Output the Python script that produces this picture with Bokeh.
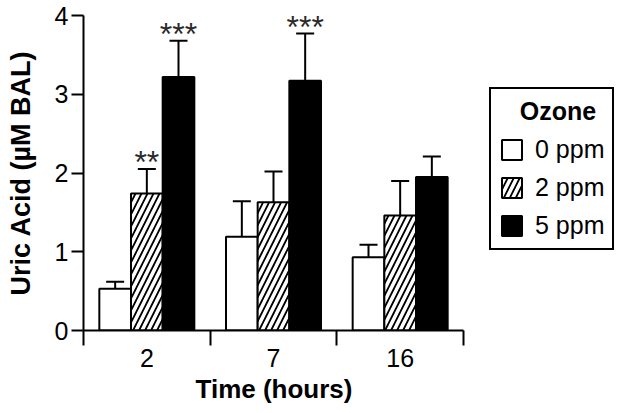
from bokeh.plotting import figure
from bokeh.models import (ColumnDataSource, Range1d, FixedTicker, Whisker, TeeHead,
                          Legend, LegendItem, Title)
from bokeh.transform import dodge
from bokeh.core.properties import value
from bokeh.embed import file_html
from bokeh.resources import INLINE

# ---- data ----
times = ["2", "7", "16"]
ozone = ["0 ppm", "2 ppm", "5 ppm"]
mean_0 = [0.53, 1.19, 0.93]
sem_0 = [0.09, 0.45, 0.16]
mean_2 = [1.74, 1.63, 1.46]
sem_2 = [0.31, 0.39, 0.44]
mean_5 = [3.22, 3.17, 1.95]
sem_5 = [0.46, 0.60, 0.26]
stars_2 = ["**", "", ""]
stars_5 = ["***", "***", ""]
legend_title = "Ozone"
x_title = "Time (hours)"
y_title = "Uric Acid (µM BAL)"

FONT = "Liberation Sans"

# layout (pixels)
DATA_W = 380      # width of the axis part of the frame
FRAME_W = 539     # frame extends right to hold the legend
FRAME_H = 315

centers = [i + 0.5 for i in range(len(times))]
src = ColumnDataSource(dict(
    x=centers,
    m0=mean_0, u0=[m + s for m, s in zip(mean_0, sem_0)],
    m2=mean_2, u2=[m + s for m, s in zip(mean_2, sem_2)],
    m5=mean_5, u5=[m + s for m, s in zip(mean_5, sem_5)],
    s2=stars_2, s5=stars_5,
))

n = len(times)
p = figure(frame_width=FRAME_W, frame_height=FRAME_H, output_backend="svg",
           toolbar_location=None,
           x_range=Range1d(0, n * FRAME_W / DATA_W), y_range=Range1d(0, 4),
           min_border_left=83, min_border_right=2, min_border_top=15,
           min_border_bottom=83)
p.outline_line_color = None
p.xgrid.visible = False
p.ygrid.visible = False
p.background_fill_color = "white"
p.border_fill_color = "white"

W = 0.25
r0 = p.vbar(x=dodge("x", -W), top="m0", width=W, bottom=0, source=src,
            fill_color="white", line_color="black", line_width=2)
r2 = p.vbar(x=dodge("x", 0), top="m2", width=W, bottom=0, source=src,
            fill_color="white", line_color="black", line_width=2,
            hatch_pattern="right_diagonal_line", hatch_color="black",
            hatch_scale=12, hatch_weight=1.8)
r5 = p.vbar(x=dodge("x", W), top="m5", width=W, bottom=0, source=src,
            fill_color="black", line_color="black", line_width=2)

for off, lo, hi in [(-W, "m0", "u0"), (0, "m2", "u2"), (W, "m5", "u5")]:
    wk = Whisker(base=dodge("x", off), lower=lo, upper=hi, source=src,
                 dimension="height", line_color="black", line_width=2,
                 upper_head=TeeHead(size=18, line_width=2, line_color="black"),
                 lower_head=None, level="underlay")
    p.add_layout(wk)

for off, hi, col in [(0, "u2", "s2"), (W, "u5", "s5")]:
    p.text(x=dodge("x", off), y=hi, text=col, source=src,
           text_align="center", text_baseline="alphabetic", y_offset=-7,
           text_font=value(FONT), text_font_size="32px", text_color="#2a2a2a")

# axes
xa = p.xaxis[0]
xa.bounds = (0, n)
xa.ticker = FixedTicker(ticks=centers, minor_ticks=list(range(n + 1)))
xa.major_label_overrides = {c: t for c, t in zip(centers, times)}
xa.major_tick_out = 0
xa.major_tick_in = 0
xa.minor_tick_out = 15
xa.minor_tick_in = 0
xa.minor_tick_line_width = 2
xa.minor_tick_line_color = "black"
xa.axis_line_width = 2
xa.axis_line_color = "black"
xa.major_label_standoff = 3
xa.major_label_text_font = FONT
xa.major_label_text_font_size = "25px"
xa.major_label_text_color = "black"

# x-axis title centred under the axis part (not the whole frame)
p.add_layout(Title(text=x_title, align="left", offset=112, standoff=4,
                   text_font=FONT, text_font_size="26px", text_font_style="bold",
                   text_color="black"), "below")

ya = p.yaxis[0]
ya.ticker = FixedTicker(ticks=[0, 1, 2, 3, 4], minor_ticks=[])
ya.major_tick_out = 12
ya.major_tick_in = 0
ya.major_tick_line_width = 2
ya.major_tick_line_color = "black"
ya.minor_tick_out = 0
ya.axis_line_width = 2
ya.axis_line_color = "black"
ya.major_label_standoff = 3
ya.major_label_text_font = FONT
ya.major_label_text_font_size = "25px"
ya.major_label_text_color = "black"
ya.axis_label = y_title
ya.axis_label_text_font = FONT
ya.axis_label_text_font_size = "27px"
ya.axis_label_text_font_style = "bold"
ya.axis_label_text_color = "black"
ya.axis_label_standoff = 16

legend = Legend(items=[LegendItem(label=ozone[0], renderers=[r0]),
                       LegendItem(label=ozone[1], renderers=[r2]),
                       LegendItem(label=ozone[2], renderers=[r5])],
                location=(406, 80), title="\u00a0\u00a0\u00a0" + legend_title,
                title_text_font=FONT, title_text_font_size="25px",
                title_text_font_style="bold",
                title_text_color="black", title_standoff=9,
                label_text_font=FONT, label_text_font_size="25px",
                label_text_color="black",
                label_standoff=11, glyph_width=25, glyph_height=25,
                label_height=25, spacing=9, padding=8, margin=0,
                border_line_color="black", border_line_width=2, border_line_alpha=1,
                background_fill_color="white", background_fill_alpha=1)
p.add_layout(legend, "center")

open("out.html", "w").write(file_html(p, INLINE))
